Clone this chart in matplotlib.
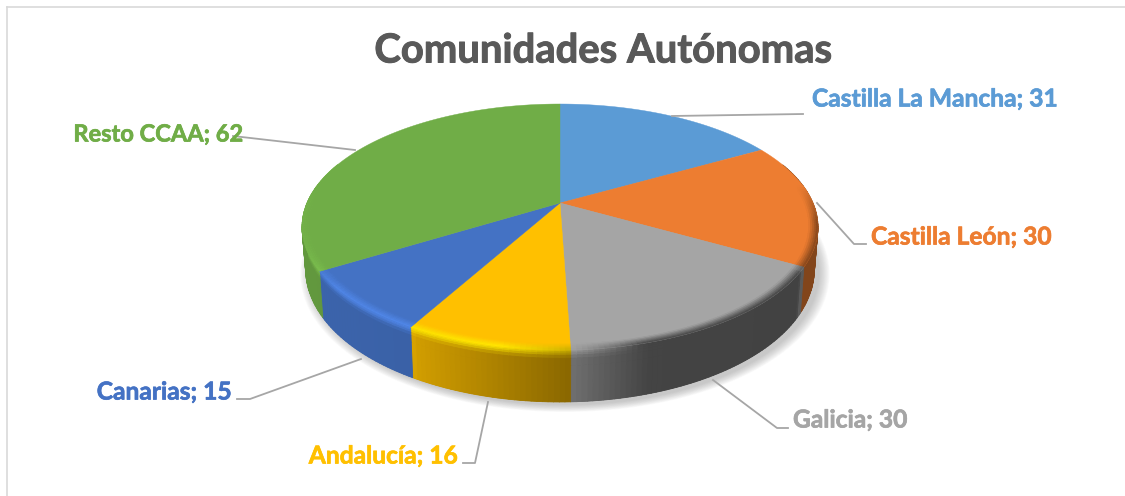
import numpy as np
import matplotlib
matplotlib.use("Agg")
import matplotlib.pyplot as plt
import matplotlib.patheffects as pe
from matplotlib.collections import PolyCollection
from matplotlib.colors import to_rgb

categories = ["Castilla La Mancha", "Castilla León", "Galicia", "Andalucía", "Canarias", "Resto CCAA"]
values = [31, 30, 30, 16, 15, 62]
colors = ["#5b9bd5", "#ed7d31", "#a5a5a5", "#ffc000", "#4472c4", "#70ad47"]
title = "Comunidades Autónomas"

label_sizes = [17.7, 17.7, 17.7, 17.7, 17.7, 17.0]
# label anchor and leader line, in picture pixels
label_pos = [(812, 99, "left"), (871, 237, "left"), (793, 420, "left"),
             (458, 456, "right"), (232, 392, "right"), (243, 134, "right")]
leaders = [[(672, 116), (803, 114)],
           [(817, 203), (854, 244), (866, 244)],
           [(713, 380), (777, 428), (788, 428)],
           [(488, 402), (475, 463), (463, 463)],
           [(361, 359), (250, 399), (237, 399)],
           [(355, 150), (233, 136)]]

# perspective of the pie disc
cx, cy = 560, 203
x_scale, y_scale, persp = 253, 118.3, 0.195


def project(theta, r=1.0, drop=0.0):
    px = r * np.sin(theta)
    py = r * np.cos(theta)
    w = 1 + persp * py
    x = cx + x_scale * px / w * (1 - 0.014 * drop)
    y = cy - y_scale * py / w + (40 - 12 * py) * drop
    return x, y


def wall_light(x):
    return np.interp(x, [300, 412, 415, 570, 572, 650, 799, 801],
                     [0.88, 0.85, 0.82, 0.54, 0.67, 0.41, 0.40, 0.55])


def rim_edge(base, x, py):
    # lit rim on the left and front, dark rim on the right
    lit = np.interp(x, [300, 335, 500, 570, 640], [0.4, 0.9, 1.0, 0.55, 0.0])
    high = np.clip(np.array(base) * 1.22, 0, 1)
    return lit * high + (1 - lit) * np.array(base) * wall_light(x)


fig = plt.figure(figsize=(11.25, 4.96), dpi=100)
ax = fig.add_axes([0, 0, 1, 1])
ax.set_xlim(0, 1125)
ax.set_ylim(496, 0)
ax.axis("off")

plt.rcParams["font.family"] = ["Lato", "DejaVu Sans"]

# frame
ax.plot([6.5, 1125], [6.5, 6.5], color="#d9d9d9", lw=1.2, zorder=1)
ax.plot([6.5, 6.5], [6.5, 496], color="#d9d9d9", lw=1.2, zorder=1)

# soft shadow
circle = np.linspace(0, 2 * np.pi, 361)
sx, sy = project(circle, 1.0, 1.0)
for grow in np.linspace(1.04, 1.0, 12):
    ax.fill(cx + (sx - cx) * grow + 5, cy + 25 + (sy - cy - 25) * grow + 3,
            color="#6f6f6f", alpha=0.035, lw=0, zorder=2)

edges = np.radians(np.concatenate([[0], np.cumsum(values)]) / np.sum(values) * 360)

# walls
bands = [0, 0.03, 0.06, 0.1, 0.16, 0.3, 1]
for i, base in enumerate(colors):
    base = to_rgb(base)
    th = np.linspace(edges[i], edges[i + 1], max(2, int(np.degrees(edges[i + 1] - edges[i]))))
    th = th[np.cos(th) < 0.35]
    if len(th) < 2:
        continue
    # opaque under layer so the strip seams do not let the shadow through
    xt, yt = project(th, 1.0, 0.0)
    xb, yb = project(th, 1.0, 1.0)
    under = np.array(base) * wall_light(xt.mean())
    ax.fill(np.r_[xt, xb[::-1]], np.r_[yt, yb[::-1]], color=under, lw=0, zorder=3)

    quads, cols = [], []
    for a, b in zip(th[:-1], th[1:]):
        mid = (a + b) / 2
        py = np.cos(mid)
        xm = project(mid)[0]
        wall = np.array(base) * wall_light(xm)
        edge = rim_edge(base, xm, py)
        for v0, v1 in zip(bands[:-1], bands[1:]):
            xa0, ya0 = project(a, 1.0, v0)
            xb0, yb0 = project(b, 1.0, v0)
            xb1, yb1 = project(b, 1.0, v1)
            xa1, ya1 = project(a, 1.0, v1)
            quads.append([(xa0, ya0), (xb0, yb0), (xb1, yb1), (xa1, ya1)])
            t = min(1.0, ((v0 + v1) / 2) / 0.16)
            cols.append(np.clip(edge * (1 - t) + wall * t, 0, 1))
    ax.add_collection(PolyCollection(quads, facecolors=cols, edgecolors="face", linewidths=0.6, zorder=3.5))

# top of the pie
for i, base in enumerate(colors):
    th = np.linspace(edges[i], edges[i + 1], 200)
    x, y = project(th)
    ax.fill(np.r_[cx, x], np.r_[cy, y], color=base, lw=0.3, zorder=4)

# bevel on the rim, front part only
rings = np.linspace(0.965, 1.0, 6)
for i, base in enumerate(colors):
    base = np.array(to_rgb(base))
    th = np.linspace(edges[i], edges[i + 1], max(2, int(np.degrees(edges[i + 1] - edges[i]))))
    quads, cols = [], []
    for a, b in zip(th[:-1], th[1:]):
        mid = (a + b) / 2
        py = np.cos(mid)
        weight = np.clip((0.15 - py) / 0.3, 0, 1)
        if weight == 0:
            continue
        xm = project(mid)[0]
        edge = rim_edge(base, xm, py)
        for r0, r1 in zip(rings[:-1], rings[1:]):
            xa0, ya0 = project(a, r0)
            xb0, yb0 = project(b, r0)
            xb1, yb1 = project(b, r1)
            xa1, ya1 = project(a, r1)
            quads.append([(xa0, ya0), (xb0, yb0), (xb1, yb1), (xa1, ya1)])
            t = ((r0 + r1) / 2 - rings[0]) / (rings[-1] - rings[0]) * weight
            cols.append(np.clip(base * (1 - t) + edge * t, 0, 1))
    if quads:
        ax.add_collection(PolyCollection(quads, facecolors=cols, edgecolors="face", linewidths=0.3, zorder=5))

# leaders and labels
for line in leaders:
    ax.plot([p[0] for p in line], [p[1] for p in line], color="#a6a6a6", lw=1.3, zorder=6)

for name, val, col, size, (lx, ly, ha) in zip(categories, values, colors, label_sizes, label_pos):
    ax.text(lx, ly, "{}; {}".format(name, val), color=col, fontsize=size, fontweight="bold",
            ha=ha, va="center", zorder=7,
            path_effects=[pe.withStroke(linewidth=0.5, foreground=col)])

ax.text(603.5, 51, title, color="#595959", fontsize=28.8, fontweight="bold", ha="center", va="center", zorder=7,
        path_effects=[pe.withStroke(linewidth=0.7, foreground="#595959")])

fig.savefig("out.png", dpi=100)
